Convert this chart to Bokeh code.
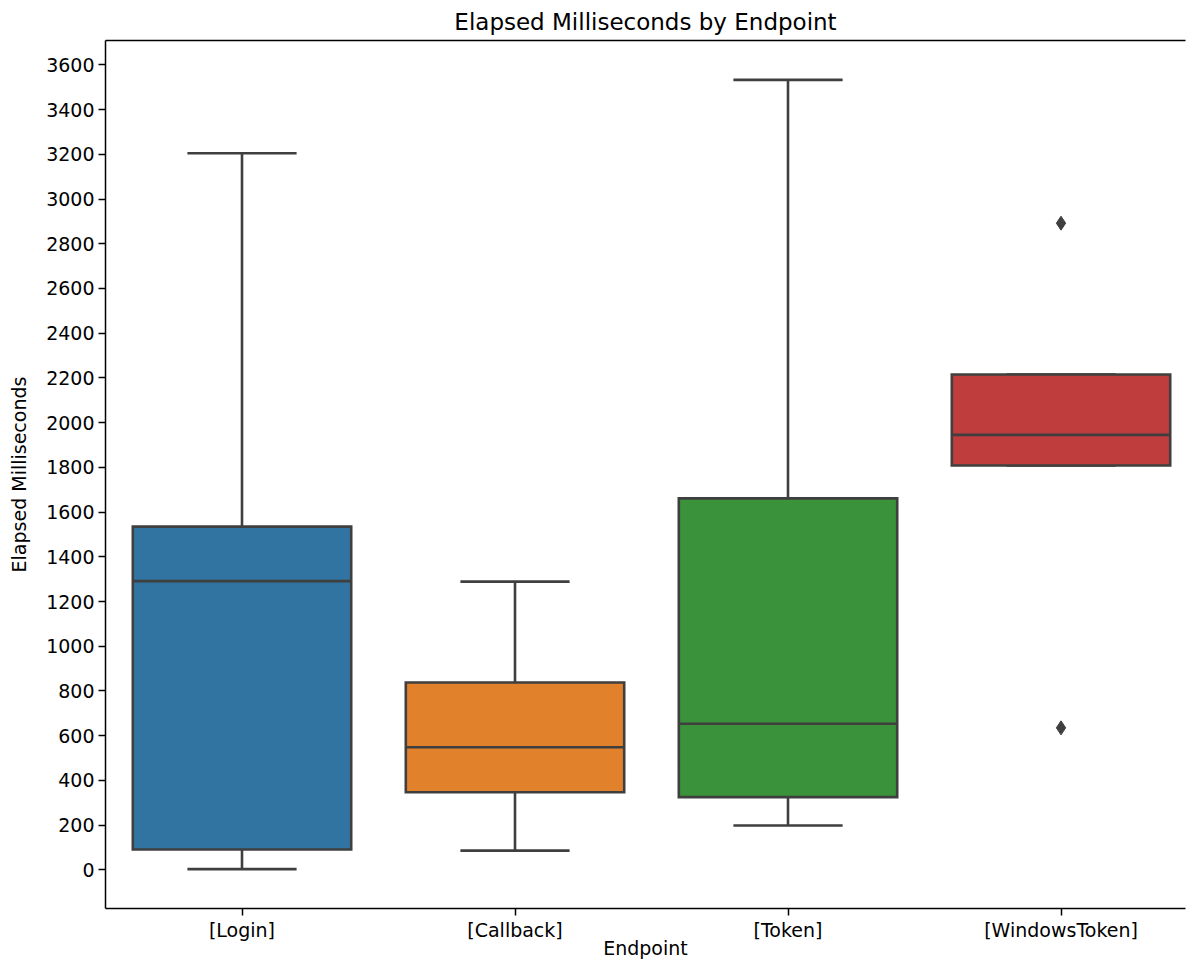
from bokeh.plotting import figure
from bokeh.models import FixedTicker, LinearAxis, Range1d
from bokeh.embed import file_html
from bokeh.resources import INLINE

# ---- data ----
categories = ["[Login]", "[Callback]", "[Token]", "[WindowsToken]"]
q1 = [91, 347, 325, 1808]
median = [1291, 548, 653, 1945]
q3 = [1535, 838, 1661, 2215]
whisker_low = [3, 86, 198, 1808]
whisker_high = [3205, 1289, 3533, 2215]
outlier_cat = ["[WindowsToken]", "[WindowsToken]"]
outlier_val = [2892, 635]
colors = ["#3274a1", "#e1812c", "#3a923a", "#c03d3e"]
yticks = list(range(0, 3601, 200))

FONT = "DejaVu Sans"
EDGE = "#3f3f3f"
LW = 2.6

xs = list(range(len(categories)))
ox = [categories.index(c) for c in outlier_cat]

p = figure(width=1186, height=961,
           x_range=Range1d(-0.5, 3.456), y_range=Range1d(-173, 3709),
           output_backend="svg", toolbar_location=None,
           title="Elapsed Milliseconds by Endpoint",
           min_border_left=105, min_border_right=1, min_border_top=0, min_border_bottom=0)
p.outline_line_color = None
p.xgrid.visible = False
p.ygrid.visible = False

p.title.text_font = FONT
p.title.text_font_size = "23px"
p.title.text_font_style = "normal"
p.title.text_color = "black"
p.title.align = "center"
p.title.standoff = 12

# whiskers
p.segment(x0=xs, y0=q3, x1=xs, y1=whisker_high, line_color=EDGE, line_width=LW)
p.segment(x0=xs, y0=q1, x1=xs, y1=whisker_low, line_color=EDGE, line_width=LW)
# caps
p.segment(x0=[x - 0.2 for x in xs], y0=whisker_high, x1=[x + 0.2 for x in xs], y1=whisker_high,
          line_color=EDGE, line_width=LW)
p.segment(x0=[x - 0.2 for x in xs], y0=whisker_low, x1=[x + 0.2 for x in xs], y1=whisker_low,
          line_color=EDGE, line_width=LW)
# boxes
p.vbar(x=xs, width=0.8, bottom=q1, top=q3, fill_color=colors, line_color=EDGE,
       line_width=LW, line_join="miter")
# medians
p.segment(x0=[x - 0.4 for x in xs], y0=median, x1=[x + 0.4 for x in xs], y1=median,
          line_color=EDGE, line_width=LW)
# outliers
p.scatter(x=ox, y=outlier_val, marker="diamond", size=14, fill_color=EDGE, line_color=EDGE)

# axes
for ax in (p.xaxis[0], p.yaxis[0]):
    ax.axis_line_color = "black"
    ax.axis_line_width = 1.5
    ax.major_tick_line_color = "black"
    ax.major_tick_line_width = 1.5
    ax.major_tick_out = 7
    ax.major_tick_in = 0
    ax.minor_tick_line_color = None
    ax.major_label_text_font = FONT
    ax.major_label_text_font_size = "19px"
    ax.major_label_text_color = "black"
    ax.axis_label_text_font = FONT
    ax.axis_label_text_font_size = "19px"
    ax.axis_label_text_font_style = "normal"
    ax.axis_label_text_color = "black"

p.xaxis.ticker = FixedTicker(ticks=xs)
p.xaxis.major_label_overrides = {i: c for i, c in enumerate(categories)}
p.xaxis.axis_label = "Endpoint"
p.xaxis.major_label_standoff = 3
p.xaxis.axis_label_standoff = -7

p.yaxis.ticker = FixedTicker(ticks=yticks)
p.yaxis.axis_label = "Elapsed Milliseconds"
p.yaxis.major_label_standoff = 4
p.yaxis.axis_label_standoff = 13

top = LinearAxis(ticker=FixedTicker(ticks=[]), axis_line_color="black", axis_line_width=1.5,
                 major_tick_line_color=None, minor_tick_line_color=None,
                 major_label_text_font_size="0px")
p.add_layout(top, "above")

open("out.html", "w").write(file_html(p, INLINE))
